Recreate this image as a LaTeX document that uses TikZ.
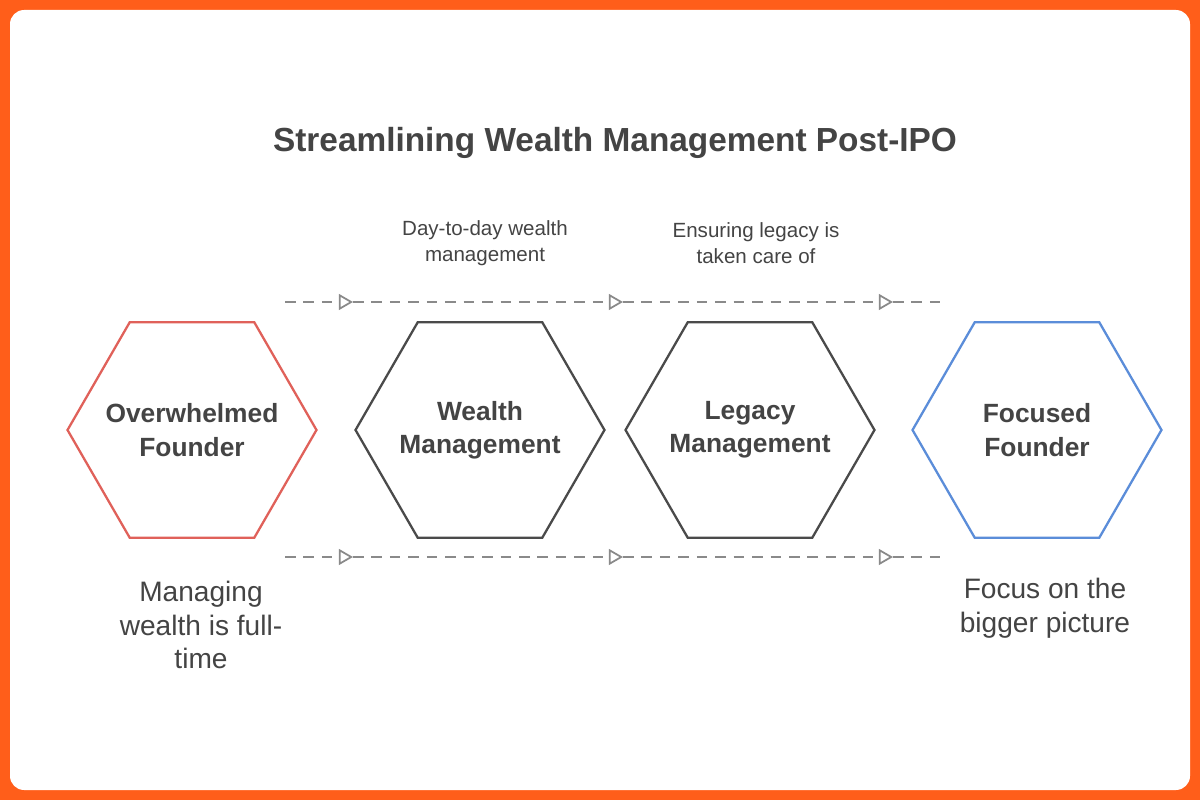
\documentclass[tikz,border=0pt]{standalone}
\usepackage{fontspec}
\setmainfont{Liberation Sans}
\usetikzlibrary{shapes.geometric,arrows.meta}
\definecolor{frameorange}{HTML}{FF5E1A}
\definecolor{textgray}{HTML}{444444}
\definecolor{hexred}{HTML}{E0615A}
\definecolor{hexdark}{HTML}{4A4A4A}
\definecolor{hexblue}{HTML}{5B8DD9}
\definecolor{dashgray}{HTML}{8A8A8A}
\tikzset{
  hexbox/.style={regular polygon, regular polygon sides=6, minimum size=4.98cm,
    inner sep=0pt, line width=1.3pt},
  hextext/.style={align=center, text=textgray, inner sep=0pt,
    font=\fontsize{15}{19}\selectfont\bfseries},
  flowline/.style={dashgray, line width=1pt, dash pattern=on 6pt off 4.5pt},
  flowtip/.style={flowline, -{Triangle[open, length=8pt, width=9pt, line width=1pt, sep=0pt]}},
  smalllabel/.style={text=textgray, align=center, font=\fontsize{11.7}{14.7}\selectfont},
  notelabel/.style={text=textgray, align=center, font=\fontsize{16}{19.3}\selectfont}
}
\begin{document}
\begin{tikzpicture}[x=0.02cm, y=-0.02cm]
  % frame
  \fill[frameorange] (0,0) rectangle (1200,800);
  \fill[white, rounded corners=8pt] (10,10) rectangle (1190,790);
  \useasboundingbox (0,0) rectangle (1200,800);

  \node[text=textgray, font=\fontsize{19}{22}\selectfont\bfseries] (title) at (615,143)
    {Streamlining Wealth Management Post-IPO};

  % hexagons
  \node[hexbox, draw=hexred]  (overwhelmed) at (192,430) {};
  \node[hexbox, draw=hexdark] (wealth)      at (480,430) {};
  \node[hexbox, draw=hexdark] (legacy)      at (750,430) {};
  \node[hexbox, draw=hexblue] (focused)     at (1037,430) {};
  \node[hextext] (overwhelmedtext) at (overwhelmed.center) {Overwhelmed\\Founder};
  \node[hextext] (wealthtext)      at (wealth.center) {Wealth\\Management};
  \node[hextext] (legacytext)      at (legacy.center) {Legacy\\Management};
  \node[hextext] (focusedtext)     at (focused.center) {Focused\\Founder};

  % dashed flows
  \foreach \row/\y in {top/302, bot/557} {
    \coordinate (\row0) at (285,\y);
    \coordinate (\row1) at (353,\y);
    \coordinate (\row2) at (623,\y);
    \coordinate (\row3) at (893,\y);
    \coordinate (\row4) at (945,\y);
    \draw[flowtip] (\row0) -- (\row1);
    \draw[flowtip] (\row1) -- (\row2);
    \draw[flowtip] (\row2) -- (\row3);
    \draw[flowline] (\row3) -- (\row4);
  }

  % labels
  \node[smalllabel] (daylabel) at (485,243) {Day-to-day wealth\\management};
  \node[smalllabel] (legacylabel) at (756,243) {Ensuring legacy is\\taken care of};
  \node[notelabel] (managelabel) at (201,625) {Managing\\wealth is full-\\time};
  \node[notelabel] (focuslabel) at (1045,608) {Focus on the\\bigger picture};
\end{tikzpicture}
\end{document}
